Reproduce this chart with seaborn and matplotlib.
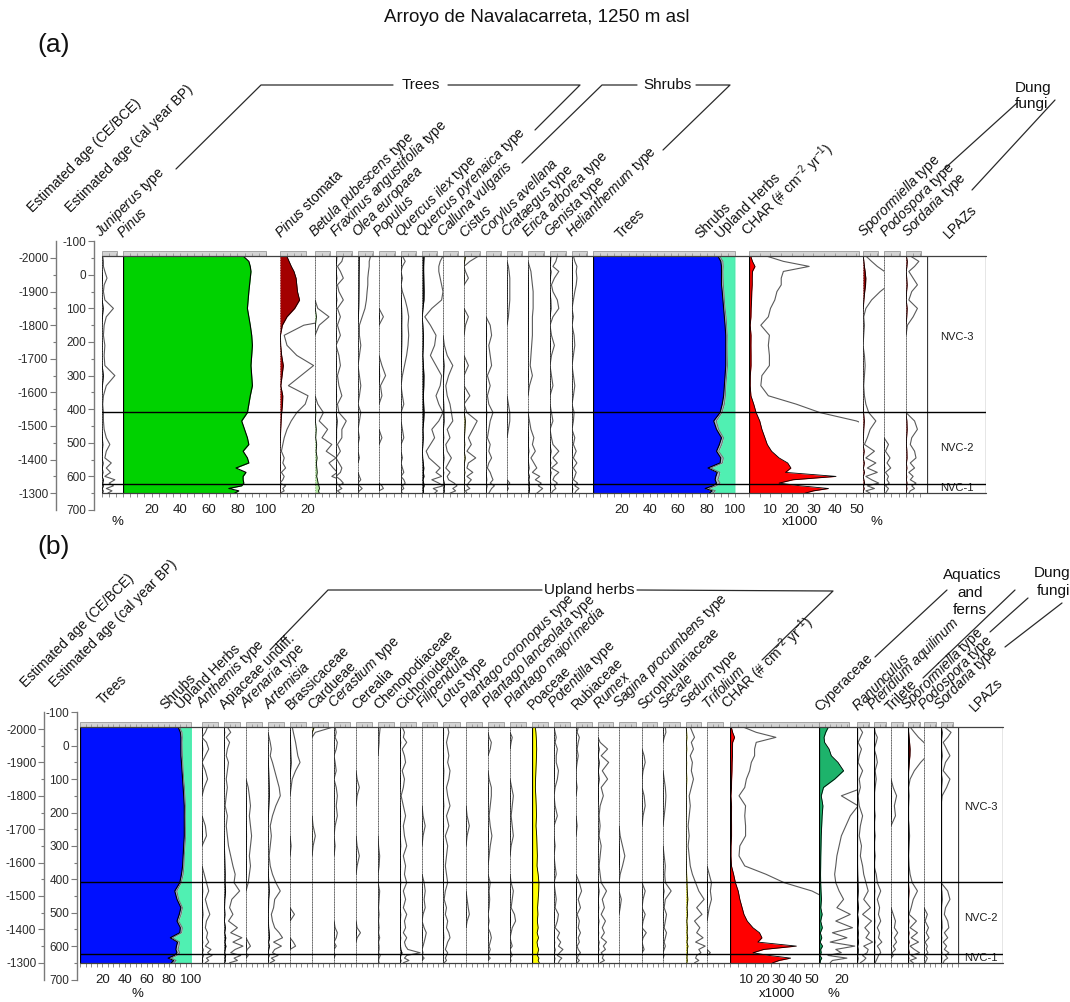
import numpy as np
import matplotlib
matplotlib.use("Agg")
import matplotlib.pyplot as plt
import seaborn as sns
from matplotlib.patches import Rectangle
from matplotlib.lines import Line2D

# ---------------------------------------------------------------- data
# sample ages, cal yr BP
age_bp = [-56, -40, -25, -10, 10, 30, 50, 75, 100, 125, 150, 180, 210, 240, 270,
          300, 330, 360, 385, 410, 435, 460, 485, 505, 525, 545, 560, 575, 588,
          600, 610, 620, 628, 636, 643, 650]

zone_bounds_bp = [408, 623]
zone_names = ["NVC-3", "NVC-2", "NVC-1"]
zone_name_bp = [185, 515, 636]

ce_tick_bp = [-50, 50, 150, 250, 350, 450, 550, 650]
ce_tick_labels = ["-2000", "-1900", "-1800", "-1700", "-1600", "-1500", "-1400", "-1300"]
ce_minor_bp = [0, 100, 200, 300, 400, 500, 600]
bp_ticks = [-100, 0, 100, 200, 300, 400, 500, 600, 700]
bp_tick_labels = ["-100", "0", "100", "200", "300", "400", "500", "600", "700"]
bp_minor = [-50, 50, 150, 250, 350, 450, 550, 650]

# pollen percentages (panel a)
juniperus = [0.05, 0.1, 0.1, 0.2, 0.35, 0.15, 0.1, 0.2, 0.8, 0.3, 0.15, 0.1, 0.2, 0.15, 0.2, 0.9, 0.3, 0.1,
             0.05, 0.1, 0.1, 0.15, 0.3, 0.55, 0.3, 0.2, 0.65, 0.3, 0.6, 0.2, 0.9, 0.5, 0.8, 0.3, 0.7, 0.4]
pinus = [84, 88, 89, 89.5, 89, 88.5, 88, 87.5, 87, 88, 89, 90, 90.5, 90, 89.5, 90, 90.5, 89,
         88, 87, 83, 85, 87, 88, 84, 87, 88, 79, 86, 84, 84, 84.5, 83, 74, 81, 78]
pinus_stomata = [4.8, 6.5, 8.1, 10, 11.5, 12, 12.5, 14, 10.5, 5, 1.7, 0.3, 0.5, 1.2, 2.4, 1.5, 0.6, 2.0,
                 1.8, 1.2, 0.8, 0.5, 0.3, 0.2, 0.1, 0.3, 0.2, 0.4, 0.1, 0.3, 0.2, 0, 0.4, 0.2, 0.3, 0]
betula = [0, 0, 0, 0, 0, 0, 0, 0, 0.2, 1.0, 0.3, 0, 0, 0, 0, 0, 0, 0,
          0.2, 0.6, 0.3, 0.9, 0.5, 1.2, 0.8, 1.5, 1.0, 1.3, 1.6, 1.2, 1.8, 2.2, 2.8, 3.2, 2.5, 3.0]
fraxinus = [0.5, 0.4, 0.1, 0.3, 0.5, 0.1, 0.2, 0.5, 0.1, 0.3, 0.1, 0.3, 0, 0.2, 0.3, 0.1, 0.2, 0.4,
            0.1, 0.2, 0.7, 0.4, 0.4, 0.1, 0.3, 0, 0.2, 0.4, 0.3, 0, 0.3, 0.5, 0.2, 0.4, 0.1, 0.3]
olea = [0.9, 0.8, 0.8, 0.75, 0.7, 0.7, 0.65, 0.6, 0.5, 0.3, 0.1, 0.1, 0.2, 0.1, 0, 0.1, 0.2, 0.1,
        0, 0.2, 0.1, 0, 0.1, 0, 0, 0.1, 0, 0, 0, 0.1, 0.2, 0, 0.1, 0.3, 0.1, 0]
populus = [0, 0, 0, 0, 0, 0, 0, 0, 0, 0.3, 0, 0, 0, 0, 0.2, 0.45, 0.1, 0.2,
           0, 0, 0, 0, 0.2, 0, 0, 0, 0, 0, 0, 0, 0, 0, 0.2, 0.3, 0, 0]
quercus_ilex = [0.1, 0.3, 0.1, 0, 0.1, 0, 0.1, 0.3, 0.45, 0.55, 0.5, 0.55, 0.5, 0.4, 0.25, 0.1, 0, 0.1,
                0.2, 0, 0, 0.1, 0.2, 0, 0, 0.1, 0, 0.1, 0.2, 0, 0.2, 0.3, 0.1, 0.2, 0, 0.1]
quercus_pyr = [1.5, 1.3, 1.2, 1.2, 1.3, 1.4, 1.5, 1.4, 0.7, 0.2, 0.6, 1.0, 0.9, 0.6, 1.0, 1.4, 1.3, 1.0,
               1.2, 1.5, 1.2, 0.7, 0.9, 0.6, 0.3, 0.5, 0.9, 1.3, 1.0, 1.4, 0.7, 1.2, 1.5, 0.8, 1.1, 0.9]
calluna = [0, 0, 0, 0, 0, 0, 0, 0, 0, 0, 0, 0, 0.1, 0.3, 0.7, 0.4, 0.2, 0.3,
           0.5, 0.6, 0.7, 0.3, 0.5, 0.2, 0.3, 0.6, 0.4, 0.2, 0.5, 0.3, 0.4, 0.8, 1.0, 0.7, 0.9, 0.5]
cistus = [1.0, 0.4, 0, 0.1, 0.3, 0, 0, 0, 0, 0.3, 0.1, 0, 0, 0, 0.3, 0, 0, 0.4,
          0, 0.2, 0.9, 0.6, 0.3, 0.5, 0.2, 0.8, 0.3, 0.2, 0.6, 0.2, 0.5, 0.3, 0.2, 0.4, 0.1, 0.2]
corylus = [0, 0, 0, 0, 0, 0, 0, 0, 0, 0, 0.3, 0.4, 0.2, 0.3, 0.4, 0.1, 0.3, 0.1,
           0.2, 0.5, 0.3, 0.2, 0.1, 0.3, 0.2, 0.4, 0.2, 0.1, 0.3, 0.4, 0.5, 0.3, 0.6, 0.4, 0.3, 0.2]
crataegus = [0, 0, 0.1, 0.15, 0.2, 0.2, 0.2, 0.2, 0.15, 0.1, 0, 0, 0, 0, 0, 0, 0, 0,
             0.1, 0.2, 0.2, 0.1, 0, 0, 0, 0, 0, 0, 0, 0, 0, 0.2, 0, 0.1, 0, 0]
erica = [0, 0, 0.1, 0.2, 0.25, 0.3, 0.35, 0.35, 0.35, 0.3, 0.3, 0.3, 0.25, 0.2, 0.15, 0.3, 0.1, 0,
         0, 0, 0.1, 0.2, 0.4, 0.3, 0.5, 0.2, 0.4, 0.6, 0.3, 0.8, 0.5, 0.9, 0.7, 1.0, 0.8, 0.6]
genista = [0.5, 0.4, 0.2, 0.6, 0.3, 0.1, 0.2, 0.5, 0.6, 0.2, 0, 0.1, 0.3, 0.1, 0, 0.1, 0.2, 0,
           0, 0.1, 0.2, 0, 0.1, 0.2, 0.6, 0.2, 0.5, 0.1, 0.6, 0.3, 0.2, 0.5, 0.3, 0.4, 0.2, 0.1]
helianthemum = [0.1, 0.2, 0.35, 0.3, 0.35, 0.3, 0.2, 0.1, 0, 0.1, 0, 0.15, 0.2, 0.1, 0, 0.1, 0.2, 0.1,
                0, 0.15, 0.1, 0, 0.2, 0.1, 0.3, 0.1, 0.35, 0.1, 0.3, 0.2, 0.1, 0.4, 0.2, 0.5, 0.3, 0.2]

# pollen sums
trees_sum = [88, 90, 90.5, 90.5, 90.5, 90.5, 91, 91.5, 92, 92.5, 93, 93.5, 93.5, 93.5, 93.5, 93, 92.5, 92,
             91, 89.5, 85, 87, 90.5, 89, 87, 90, 89.5, 81, 87.5, 86.5, 86, 87, 84.5, 79, 84, 82]
shrubs_sum = [1.2, 1.5, 1.2, 1.0, 1.1, 1.3, 1.2, 1.0, 1.0, 1.2, 1.1, 1.0, 0.9, 1.0, 1.2, 1.1, 1.0, 1.2,
              1.5, 1.3, 1.8, 1.5, 1.4, 1.6, 1.5, 1.8, 1.6, 2.0, 1.8, 2.2, 1.9, 2.5, 2.3, 2.6, 2.2, 2.0]

# charcoal accumulation rate (x1000 particles cm-2 yr-1)
char_rate = [0.8, 1.6, 2.8, 1.6, 1.5, 1.5, 1.3, 1.2, 1.0, 0.9, 0.55, 0.95, 0.9, 0.95, 0.95, 0.6, 0.55, 0.9,
             2.2, 3.3, 5.0, 6.0, 7.4, 8.5, 10.5, 14.0, 18.0, 19.5, 17.0, 40.5, 20.5, 14.0, 24.0, 37.0, 30.0, 26.0]

# coprophilous fungi
sporormiella = [0.2, 0.6, 1.0, 1.5, 2.0, 1.8, 1.2, 0.6, 0.2, 0.05, 0.1, 0.05, 0, 0.1, 0.15, 0.1, 0.05, 0.1,
                0.2, 0.4, 0.9, 0.5, 0.3, 0.1, 0.8, 0.2, 0.9, 0.3, 1.0, 0.2, 0.6, 1.1, 0.3, 0.8, 0.2, 0.5]
podospora = [0, 0, 0, 0, 0, 0, 0, 0, 0, 0, 0, 0, 0, 0, 0, 0, 0, 0,
             0, 0, 0, 0, 0, 0.3, 0.1, 0.4, 0.2, 0.45, 0.1, 0.3, 0.2, 0.35, 0.1, 0.3, 0.2, 0.1]
sordaria = [0.3, 0.9, 0.6, 0.2, 0.5, 0.8, 0.4, 0.2, 0.8, 0.5, 0.1, 0, 0, 0, 0, 0, 0, 0,
            0, 0, 0.6, 0.8, 0.4, 0.3, 0.6, 0.7, 0.3, 0.6, 0.2, 0.5, 0.3, 0.7, 0.4, 0.6, 0.3, 0.2]

# upland herbs (panel b)
anthemis = [0.5, 0.3, 0, 0.4, 0.6, 0.3, 0, 0.3, 0.5, 0.2, 0, 0, 0, 0.3, 0.4, 0, 0, 0,
            0.2, 0.4, 0.6, 0.3, 0.5, 0.7, 0.4, 0.3, 0.5, 0.4, 0.6, 0.3, 0.8, 0.5, 0.9, 0.4, 0.6, 0.3]
apiaceae = [0.3, 0.6, 0.2, 0.5, 0.3, 0.2, 0.4, 0.3, 0.2, 0.3, 0.2, 0.1, 0.3, 0.2, 0.3, 0.4, 0.6, 0.8,
            1.0, 0.9, 1.4, 0.7, 0.5, 0.8, 0.4, 1.2, 0.6, 1.6, 0.8, 1.7, 1.0, 0.6, 1.5, 0.9, 1.2, 0.5]
arenaria = [0, 0, 0, 0, 0, 0, 0, 0, 0, 0.2, 0.3, 0.4, 0.3, 0.4, 0.5, 0.4, 0.3, 0.4,
            0.3, 0.2, 0, 0, 0, 0, 0, 0, 0, 0, 0.2, 0.4, 0.1, 0, 0.2, 0, 0, 0]
artemisia = [0, 0, 0.1, 0.2, 0.3, 0.2, 0.4, 0.6, 0.8, 1.0, 1.1, 0.7, 0.4, 0.2, 0.3, 0.2, 0.1, 0.2,
             0.4, 0.7, 1.1, 0.6, 0.5, 0.3, 0.4, 0.6, 1.0, 1.3, 0.5, 1.2, 0.6, 0.4, 0.9, 0.3, 0.6, 0.2]
brassicaceae = [0.2, 0.3, 0.4, 0.5, 0.6, 0.7, 0.9, 0.5, 0.2, 0.1, 0, 0, 0, 0, 0, 0.1, 0, 0,
                0, 0, 0, 0, 0, 0.4, 0, 0, 0, 0, 0.3, 0.5, 0, 0, 0, 0, 0, 0]
cardueae = [1.9, 0.3, 0, 0, 0, 0, 0, 0, 0, 0, 0, 0, 0, 0.1, 0.3, 0.1, 0, 0,
            0, 0, 0, 0, 0, 0, 0, 0, 0, 0, 0, 0, 0, 0, 0, 0, 0, 0]
cerastium = [0.1, 0.2, 0.1, 0.3, 0.2, 0, 0.1, 0.2, 0, 0.2, 0.3, 0.2, 0.3, 0.1, 0, 0.1, 0, 0,
             0, 0, 0, 0, 0, 0, 0, 0.1, 0.3, 0.2, 0, 0.2, 0, 0, 0.1, 0, 0, 0]
cerealia = [0, 0, 0, 0, 0, 0, 0, 0, 0.1, 0.3, 0.1, 0, 0, 0, 0, 0.1, 0.3, 0.1,
            0, 0, 0, 0, 0, 0, 0, 0.1, 0.4, 0.1, 0, 0, 0, 0, 0, 0, 0, 0]
chenopodiaceae = [0.2, 0.15, 0.1, 0.1, 0.05, 0, 0, 0, 0, 0, 0, 0, 0, 0, 0, 0.05, 0.15, 0.1,
                  0, 0, 0.15, 0.1, 0.05, 0.1, 0.05, 0.1, 0.05, 0.15, 0.05, 0.1, 0.1, 0.05, 0.2, 0.1, 0.05, 0.1]
cichorioideae = [0.2, 0.4, 0.3, 0.6, 0.2, 0.4, 0.5, 0.2, 0.4, 0.3, 0.1, 0.3, 0.5, 0.3, 0.4, 0.6, 0.3, 0.5,
                 0.4, 0.6, 0.3, 0.5, 0.3, 0.6, 0.4, 0.5, 0.3, 0.6, 0.4, 0.5, 0.7, 1.8, 0.6, 0.4, 0.8, 0.3]
filipendula = [0, 0, 0, 0, 0, 0, 0, 0, 0, 0, 0, 0, 0.1, 0.3, 0.1, 0, 0, 0,
               0, 0.2, 0.3, 0.2, 0.3, 0.1, 0, 0.2, 0.4, 0.3, 0.2, 0.1, 0, 0.1, 0, 0.2, 0, 0]
lotus = [0.4, 0.5, 0.4, 0.3, 0.4, 0.5, 0.4, 0.6, 0.5, 0.3, 0.4, 0.6, 0.3, 0.5, 0.2, 0.4, 0.3, 0.2,
         0.3, 0.4, 0.2, 0.1, 0.3, 0.2, 0.4, 0.3, 0.5, 0.6, 0.4, 0.3, 0.2, 0.4, 0.3, 0.2, 0.3, 0.1]
plantago_coronopus = [0, 0, 0, 0, 0, 0, 0, 0, 0, 0, 0, 0, 0.1, 0.3, 0.1, 0, 0, 0,
                      0, 0, 0, 0.1, 0.2, 0.3, 0.1, 0, 0, 0, 0, 0, 0, 0, 0, 0, 0, 0]
plantago_lanceolata = [0, 0, 0.1, 0.3, 0.2, 0, 0, 0, 0.1, 0.3, 0.3, 0.2, 0.1, 0.2, 0.35, 0.2, 0.1, 0,
                       0, 0.2, 0.1, 0.15, 0.1, 0, 0.1, 0, 0.2, 0.3, 0.2, 0.1, 0.2, 0.1, 0, 0.2, 0, 0]
plantago_major = [0, 0, 0.2, 0.1, 0, 0, 0, 0, 0, 0.15, 0.3, 0.2, 0.1, 0.2, 0.3, 0.1, 0, 0,
                  0, 0.1, 0.3, 0.2, 0.1, 0.4, 0.5, 0.2, 0.1, 0, 0.1, 0.2, 0, 0.1, 0.2, 0, 0.1, 0]
poaceae = [3, 3.5, 3.8, 4.0, 4.2, 4.0, 3.8, 3.5, 3.2, 3.0, 3.4, 3.8, 4.0, 3.6, 4.2, 4.5, 4.8, 4.5,
           5.5, 6.2, 6.0, 5.5, 5.0, 5.3, 4.8, 5.5, 4.6, 5.8, 4.5, 5.0, 6.0, 5.2, 4.8, 6.2, 5.5, 6.5]
potentilla = [0, 0.1, 0.2, 0.1, 0.3, 0.2, 0.2, 0.4, 0.3, 0.1, 0, 0.1, 0.3, 0, 0, 0.1, 0, 0.1,
              0.2, 0, 0.1, 0.2, 0.1, 0.4, 0.3, 0.1, 0.5, 0.3, 0.6, 0.4, 0.8, 0.5, 0.3, 0.7, 0.5, 0.4]
rubiaceae = [0.2, 0.1, 0.3, 0.2, 0.1, 0.2, 0.1, 0, 0, 0.1, 0, 0, 0, 0.1, 0, 0, 0, 0,
             0, 0.3, 0.5, 0.2, 0.4, 0.1, 0.3, 0.2, 0.4, 0.2, 0.3, 0.1, 0.2, 0.4, 0.2, 0.1, 0.3, 0.1]
rumex = [0, 0, 0, 0.2, 0.9, 0.3, 1.0, 0.4, 0.9, 0.3, 0.5, 0.2, 0.1, 0.2, 0.1, 0.3, 0.2, 0.1,
         0.2, 0.3, 0.8, 0.4, 0.6, 0.3, 0.7, 0.4, 0.6, 0.3, 0.8, 0.5, 0.7, 0.3, 0.5, 0.4, 0.6, 0.2]
sagina = [0, 0, 0, 0, 0, 0, 0, 0, 0, 0, 0, 0, 0, 0, 0.1, 0.3, 0.5, 0.3,
          0.1, 0, 0, 0.2, 0.1, 0, 0, 0, 0, 0, 0, 0, 0, 0, 0, 0, 0, 0]
scrophulariaceae = [0, 0, 0, 0, 0, 0.2, 0.3, 0.1, 0, 0, 0.2, 0.3, 0.1, 0, 0, 0, 0, 0,
                    0, 0, 0.3, 0.1, 0, 0.3, 0.1, 0, 0.4, 0.1, 0, 0.1, 0.2, 0, 0, 0, 0, 0]
secale = [0.2, 0.25, 0.1, 0, 0, 0, 0, 0, 0.1, 0.2, 0.25, 0.2, 0.1, 0, 0, 0, 0.1, 0.2,
          0.15, 0.2, 0.7, 0.2, 0.1, 0.3, 0.2, 0.1, 0.3, 0.2, 0.1, 0.2, 0.1, 0, 0.1, 0, 0, 0]
sedum = [0.4, 0.6, 0.8, 0.5, 0.7, 0.4, 0.6, 0.5, 0.7, 0.5, 0.3, 0.4, 0.3, 0.2, 0.3, 0.2, 0.3, 0.4,
         0.6, 0.9, 1.2, 1.7, 1.0, 1.5, 0.8, 1.3, 1.0, 1.6, 0.9, 1.8, 1.2, 1.4, 1.0, 0.9, 1.2, 0.8]
trifolium = [0, 0, 0, 0, 0, 0, 0, 0, 0, 0, 0, 0, 0, 0, 0, 0, 0, 0,
             0.2, 0.4, 0.3, 0.4, 0.2, 0.1, 0, 0, 0, 0, 0, 0, 0, 0.3, 0, 0, 0, 0]

# aquatics and ferns
cyperaceae = [8.4, 6, 4.5, 5, 9, 11, 17, 22, 14, 4, 2.0, 3.5, 2.8, 2.4, 2, 1.8, 1.6, 1.5,
              1.4, 1.5, 1.8, 2.2, 1.6, 2.8, 1.5, 3.0, 1.2, 2.5, 1.0, 3.2, 1.5, 2.0, 0.8, 2.5, 1.2, 1.0]
ranunculus = [0.2, 0.5, 0.3, 0.1, 0.4, 0.2, 0.1, 0.5, 0.2, 0.3, 0.1, 0.2, 0.5, 0.3, 0.2, 0.4, 0.3, 0.5,
              0.6, 0.8, 1.0, 0.6, 1.2, 0.5, 1.3, 0.7, 1.1, 0.8, 1.4, 0.6, 1.0, 0.9, 0.5, 0.8, 0.6, 0.3]
pteridium = [0, 0.1, 0.3, 0.2, 0, 0.2, 0.3, 0.1, 0.2, 0.1, 0, 0, 0.1, 0, 0.1, 0, 0.1, 0,
             0.2, 0.3, 0.6, 0.3, 0.5, 0.4, 0.6, 0.3, 0.5, 0.4, 0.7, 0.3, 0.5, 0.6, 0.4, 0.3, 0.2, 0.1]
trilete = [0, 0, 0, 0, 0, 0, 0, 0, 0, 0.2, 0.5, 0.3, 0.4, 0, 0, 0, 0, 0,
           0, 0, 0, 0, 0, 0.2, 0.4, 0.3, 0.6, 0.3, 0.5, 0.2, 0.4, 0.1, 0.2, 0, 0, 0]

# ---------------------------------------------------------------- style
sns.set_theme(style="ticks")
plt.rcParams["font.family"] = ["Liberation Sans", "DejaVu Sans"]
plt.rcParams.update({
    "mathtext.fontset": "custom",
    "mathtext.rm": "Liberation Sans",
    "mathtext.it": "Liberation Sans:italic",
    "mathtext.bf": "Liberation Sans:bold",
    "mathtext.sf": "Liberation Sans",
    "axes.unicode_minus": False,
})

W, H = 1070, 1002
fig = plt.figure(figsize=(W / 100, H / 100), dpi=100)
fig.patch.set_facecolor("white")

AGES = np.asarray(age_bp, float)
TOP_BP, BOT_BP = age_bp[0], age_bp[-1]
PANEL_Y = {"a": (258.0, 0.336), "b": (729.0, 0.334)}


def ypx(p, bp):
    y0, k = PANEL_Y[p]
    return y0 + (bp + 50) * k


def rect(x0, x1, y0, y1):
    return [x0 / W, 1 - y1 / H, (x1 - x0) / W, (y1 - y0) / H]


def it(name):
    return r"$\mathit{" + name.replace(" ", r"\ ") + "}$"


def strip_axes(p, x0, x1, xmax, bar=0.72, minor=5, labelled=None):
    yt, yb = ypx(p, TOP_BP), ypx(p, BOT_BP)
    ax = fig.add_axes(rect(x0, x1, yt, yb))
    ax.patch.set_visible(False)
    for s in ax.spines.values():
        s.set_visible(False)
    ax.set_yticks([])
    ax.set_xticks(labelled if labelled else [])
    if labelled:
        ax.set_xticklabels([f"{t:g}" for t in labelled])
    ax.set_xticks(np.arange(0, xmax + 1e-6, minor), minor=True)
    ax.tick_params(axis="x", which="both", bottom=True, top=False, direction="out",
                   color="#7a7a7a", width=0.6, length=3, labelsize=9.5,
                   labelcolor="#1e1e1e", pad=5)
    ax.tick_params(axis="y", left=False, right=False)
    # ruler bar above each strip
    hf = 4.5 / (yb - yt)
    bw = xmax * bar
    tr = ax.get_xaxis_transform()
    ax.add_patch(Rectangle((0, 1.0), bw, hf, transform=tr, clip_on=False,
                           facecolor="#d4d4d4", edgecolor="#8a8a8a", lw=0.5, zorder=6))
    ax.vlines(np.arange(minor, bw - 0.01, minor), 1.0, 1.0 + hf * 0.6, transform=tr,
              clip_on=False, colors="#8a8a8a", lw=0.5, zorder=7)
    return ax


def finish(ax, xmax):
    ax.set_xlim(0, xmax)
    ax.set_ylim(BOT_BP, TOP_BP)
    ax.set_xlabel("")
    ax.set_ylabel("")


def taxon(p, x0, x1, values, xmax, fill="#151515", exag=10, solid=False,
          bar=0.72, minor=5, labelled=None):
    ax = strip_axes(p, x0, x1, xmax, bar, minor, labelled)
    v = np.asarray(values, float)
    if solid:
        ax.axvline(0, color="black", lw=0.9, zorder=5)
    else:
        ax.axvline(0, color="#6a6a6a", lw=0.7, ls=(0, (1.0, 1.6)), zorder=1)
    if exag:
        sns.lineplot(x=v * exag, y=AGES, orient="y", sort=False, estimator=None,
                     color="#5a5a5a", linewidth=0.8, ax=ax, zorder=2)
    ax.fill_betweenx(AGES, 0, v, color=fill, linewidth=0, zorder=3)
    keep = (v > 0) | (np.r_[v[1:], 0] > 0) | (np.r_[0, v[:-1]] > 0)
    ax.plot(np.where(keep, v, np.nan), AGES, color="black", lw=0.6, zorder=4)
    finish(ax, xmax)
    return ax


def summary(p, x0, x1):
    ax = strip_axes(p, x0, x1, 100, bar=1.0, minor=5, labelled=[20, 40, 60, 80, 100])
    t = np.asarray(trees_sum, float)
    s = t + np.asarray(shrubs_sum, float)
    ax.fill_betweenx(AGES, 0, t, color="#0010ff", linewidth=0)
    ax.fill_betweenx(AGES, t, s, color="#a9bcc6", linewidth=0)
    ax.fill_betweenx(AGES, s, 100, color="#50f0b2", linewidth=0)
    sns.lineplot(x=t, y=AGES, orient="y", sort=False, estimator=None,
                 color="black", linewidth=0.8, ax=ax)
    ax.plot(s, AGES, color="#6a6a6a", lw=0.6)
    ax.axvline(0, color="black", lw=0.9)
    ax.axvline(100, color="#6a6a6a", lw=0.8)
    finish(ax, 100)


def lpaz(p, x0, x1):
    yt, yb = ypx(p, TOP_BP), ypx(p, BOT_BP)
    ax = fig.add_axes(rect(x0, x1, yt, yb))
    ax.axis("off")
    ax.set_xlim(0, 1)
    ax.set_ylim(BOT_BP, TOP_BP)
    ax.axvline(0, color="#3a3a3a", lw=0.9)
    ax.axvline(1, color="#3a3a3a", lw=0.9)
    for name, bp in zip(zone_names, zone_name_bp):
        ax.text(0.5, bp, name, ha="center", va="center", fontsize=8, color="#1e1e1e")


def zone_overlay(p, x0, x1):
    yt, yb = ypx(p, TOP_BP), ypx(p, BOT_BP)
    ax = fig.add_axes(rect(x0, x1, yt, yb))
    ax.axis("off")
    ax.set_xlim(0, 1)
    ax.set_ylim(BOT_BP, TOP_BP)
    for b in zone_bounds_bp:
        ax.axhline(b, color="black", lw=1.0)
    ax.axhline(TOP_BP, color="#404040", lw=0.9, clip_on=False)
    ax.axhline(BOT_BP, color="#404040", lw=0.9, clip_on=False)


def age_axis(p, x, ticks, labels, minor):
    yt, yb = ypx(p, -100), ypx(p, 700)
    ax = fig.add_axes(rect(x, x + 2, yt, yb))
    ax.patch.set_visible(False)
    ax.set_ylim(700, -100)
    ax.set_xlim(0, 1)
    for k in ("top", "right", "bottom"):
        ax.spines[k].set_visible(False)
    ax.spines["left"].set_color("#7a7a7a")
    ax.spines["left"].set_linewidth(1.0)
    ax.set_xticks([])
    ax.set_yticks(ticks)
    ax.set_yticklabels(labels)
    ax.set_yticks(minor, minor=True)
    ax.tick_params(axis="y", which="both", left=True, right=False, direction="out",
                   color="#7a7a7a", width=0.8)
    ax.tick_params(axis="y", which="major", length=4, labelsize=8.5,
                   labelcolor="#2a2a2a", pad=1.5)
    ax.tick_params(axis="y", which="minor", length=2.5)


def rot_label(x, y, s, size=10):
    fig.text(x / W, 1 - y / H, s, rotation=45, rotation_mode="anchor",
             ha="left", va="bottom", fontsize=size, color="#111111")


def fig_line(pts):
    fig.add_artist(Line2D([q[0] / W for q in pts], [1 - q[1] / H for q in pts],
                          transform=fig.transFigure, color="#2a2a2a", lw=0.9))


def fig_text(x, y, s, size=11, ha="center"):
    fig.text(x / W, 1 - y / H, s, ha=ha, va="center", fontsize=size, color="#111111")


CHAR_LABEL = r"CHAR (# cm$^{-2}$ yr$^{-1}$)"

# ---------------------------------------------------------------- titles
fig_text(537, 18, "Arroyo de Navalacarreta, 1250 m asl", size=13.5)
fig_text(37, 45, "(a)", size=19, ha="left")
fig_text(37, 547, "(b)", size=19, ha="left")

# ================================================================ panel (a)
age_axis("a", 56, ce_tick_bp, ce_tick_labels, ce_minor_bp)
age_axis("a", 94, bp_ticks, bp_tick_labels, bp_minor)

taxon("a", 102, 123, juniperus, 14.7)
pax = strip_axes("a", 123, 267, 100.7, bar=0.995, minor=5, labelled=[20, 40, 60, 80, 100])
pax.fill_betweenx(AGES, 0, pinus, color="#00d200", linewidth=0)
sns.lineplot(x=pinus, y=AGES, orient="y", sort=False, estimator=None,
             color="black", linewidth=0.8, ax=pax)
pax.axvline(0, color="black", lw=0.9)
finish(pax, 100.7)

taxon("a", 280, 315, pinus_stomata, 25, fill="#a30000", labelled=[20], bar=0.75)

narrow_a = [betula, fraxinus, olea, populus, quercus_ilex, quercus_pyr, calluna,
            cistus, corylus, crataegus, erica, genista, helianthemum]
narrow_a_x = [315, 336, 358, 379, 401, 422, 443, 464, 486, 507, 528, 550, 572, 593]
narrow_a_fill = ["#b4eaa0", "#151515", "#151515", "#151515", "#151515", "#151515", "#151515",
                 "#7a7a20", "#151515", "#151515", "#151515", "#151515", "#151515"]
for i, vals in enumerate(narrow_a):
    taxon("a", narrow_a_x[i], narrow_a_x[i + 1], vals, 15.0, fill=narrow_a_fill[i])

summary("a", 593, 735)
taxon("a", 749, 859, char_rate, 51.2, fill="#ff0000", solid=True, bar=1.0,
      labelled=[10, 20, 30, 40, 50])
taxon("a", 863, 884, sporormiella, 14.7, fill="#8b0000")
taxon("a", 884, 906, podospora, 14.7)
taxon("a", 906, 927, sordaria, 14.7, fill="#8b0000")
lpaz("a", 927, 986)
zone_overlay("a", 102, 986)

labels_a = [
    (it("Juniperus") + " type", 104), (it("Pinus"), 125), (it("Pinus") + " stomata", 283),
    (it("Betula pubescens") + " type", 318), (it("Fraxinus angustifolia") + " type", 339),
    (it("Olea europaea"), 361), (it("Populus"), 382), (it("Quercus ilex") + " type", 404),
    (it("Quercus pyrenaica") + " type", 425), (it("Calluna vulgaris"), 446), (it("Cistus"), 467),
    (it("Corylus avellana"), 489), (it("Crataegus") + " type", 510),
    (it("Erica arborea") + " type", 531), (it("Genista") + " type", 553),
    (it("Helianthemum") + " type", 575), ("Trees", 623), ("Shrubs", 702),
    ("Upland Herbs", 723), (CHAR_LABEL, 752), (it("Sporormiella") + " type", 867),
    (it("Podospora") + " type", 889), (it("Sordaria") + " type", 911), ("LPAZs", 951),
]
ya = ypx("a", TOP_BP) - 15
for s, x in labels_a:
    rot_label(x, ya, s)
rot_label(35, 215, "Estimated age (CE/BCE)")
rot_label(73, 215, "Estimated age (cal year BP)")

fig_line([(176, 169), (261, 85), (393, 85)])
fig_text(421, 85, "Trees")
fig_line([(448, 85), (580, 85), (535, 130)])
fig_line([(522, 163), (602, 85), (637, 85)])
fig_text(667, 85, "Shrubs")
fig_line([(696, 85), (730, 85), (663, 150)])
fig_line([(943, 170), (1017, 103)])
fig_line([(972, 190), (1055, 100)])
fig_text(1033, 88, "Dung")
fig_text(1031, 104, "fungi")

fig_text(117, 522, "%", size=9.5)
fig_text(800, 522, "x1000", size=9.5)
fig_text(876, 522, "%", size=9.5)

# ================================================================ panel (b)
age_axis("b", 44, ce_tick_bp, ce_tick_labels, ce_minor_bp)
age_axis("b", 77, bp_ticks, bp_tick_labels, bp_minor)

summary("b", 80, 191.5)

herbs_b = [anthemis, apiaceae, arenaria, artemisia, brassicaceae, cardueae, cerastium,
           cerealia, chenopodiaceae, cichorioideae, filipendula, lotus, plantago_coronopus,
           plantago_lanceolata, plantago_major, poaceae, potentilla, rubiaceae, rumex,
           sagina, scrophulariaceae, secale, sedum, trifolium]
herbs_b_x = [202, 224, 246, 268, 290, 312, 334, 356, 378, 400, 422, 443, 466, 488, 510,
             532, 554, 576, 598, 619, 642, 663, 686, 707, 729]
herb_names = [
    it("Anthemis") + " type", "Apiaceae undiff.", it("Arenaria") + " type", it("Artemisia"),
    "Brassicaceae", "Cardueae", it("Cerastium") + " type", "Cerealia", "Chenopodiaceae",
    "Cichorioideae", it("Filipendula"), it("Lotus") + " type", it("Plantago coronopus") + " type",
    it("Plantago lanceolata") + " type", it("Plantago major/media"), "Poaceae",
    it("Potentilla") + " type", "Rubiaceae", it("Rumex"), it("Sagina procumbens") + " type",
    "Scrophulariaceae", it("Secale"), it("Sedum") + " type", it("Trifolium"),
]
for i, vals in enumerate(herbs_b):
    if herb_names[i] == "Poaceae":
        taxon("b", herbs_b_x[i], herbs_b_x[i + 1], vals, 19.7, fill="#ffff00",
              exag=None, solid=True)
    elif vals is sedum:
        taxon("b", herbs_b_x[i], herbs_b_x[i + 1], vals, 19.7, fill="#d8d800")
    elif vals is cardueae:
        taxon("b", herbs_b_x[i], herbs_b_x[i + 1], vals, 19.7, fill="#8a8a20")
    else:
        taxon("b", herbs_b_x[i], herbs_b_x[i + 1], vals, 19.7)

taxon("b", 730, 819, char_rate, 54.3, fill="#ff0000", solid=True, bar=1.0,
      labelled=[10, 20, 30, 40, 50])
taxon("b", 819, 857, cyperaceae, 34, fill="#1db36b", solid=True, bar=0.8, labelled=[20])
taxon("b", 857, 874, ranunculus, 15.2, solid=True)
taxon("b", 874, 891, pteridium, 15.2, solid=True)
taxon("b", 891, 908, trilete, 15.2)
taxon("b", 908, 924, sporormiella, 15.2, fill="#8b0000", solid=True)
taxon("b", 924, 941, podospora, 15.2)
taxon("b", 941, 958, sordaria, 15.2, solid=True)
lpaz("b", 958, 1003)
zone_overlay("b", 80, 1003)

yb_lab = ypx("b", TOP_BP) - 15
rot_label(105, yb_lab - 5, "Trees")
rot_label(167, yb_lab, "Shrubs")
rot_label(183, yb_lab, "Upland Herbs")
for i, s in enumerate(herb_names):
    rot_label(herbs_b_x[i] + 3, yb_lab, s)
for s, x in [(CHAR_LABEL, 732), ("Cyperaceae", 822), (it("Ranunculus"), 860),
             (it("Pteridium aquilinum"), 876), ("Trilete", 893),
             (it("Sporormiella") + " type", 910), (it("Podospora") + " type", 927),
             (it("Sordaria") + " type", 943), ("LPAZs", 977)]:
    rot_label(x, yb_lab + 2, s)
rot_label(28, 690, "Estimated age (CE/BCE)")
rot_label(57, 690, "Estimated age (cal year BP)")

fig_line([(270, 650), (328, 590), (542, 590)])
fig_text(589, 590, "Upland herbs")
fig_line([(637, 590), (833, 591), (762, 660)])
fig_text(972, 575, "Aquatics")
fig_text(970, 593, "and")
fig_text(970, 610, "ferns")
fig_line([(947, 590), (875, 657)])
fig_line([(1015, 590), (923, 678)])
fig_text(1052, 573, "Dung")
fig_text(1053, 591, "fungi")
fig_line([(1028, 598), (990, 632)])
fig_line([(1062, 603), (1005, 647)])

fig_text(137, 994, "%", size=9.5)
fig_text(777, 994, "x1000", size=9.5)
fig_text(833, 994, "%", size=9.5)

fig.savefig("out.png", dpi=100, facecolor="white")
